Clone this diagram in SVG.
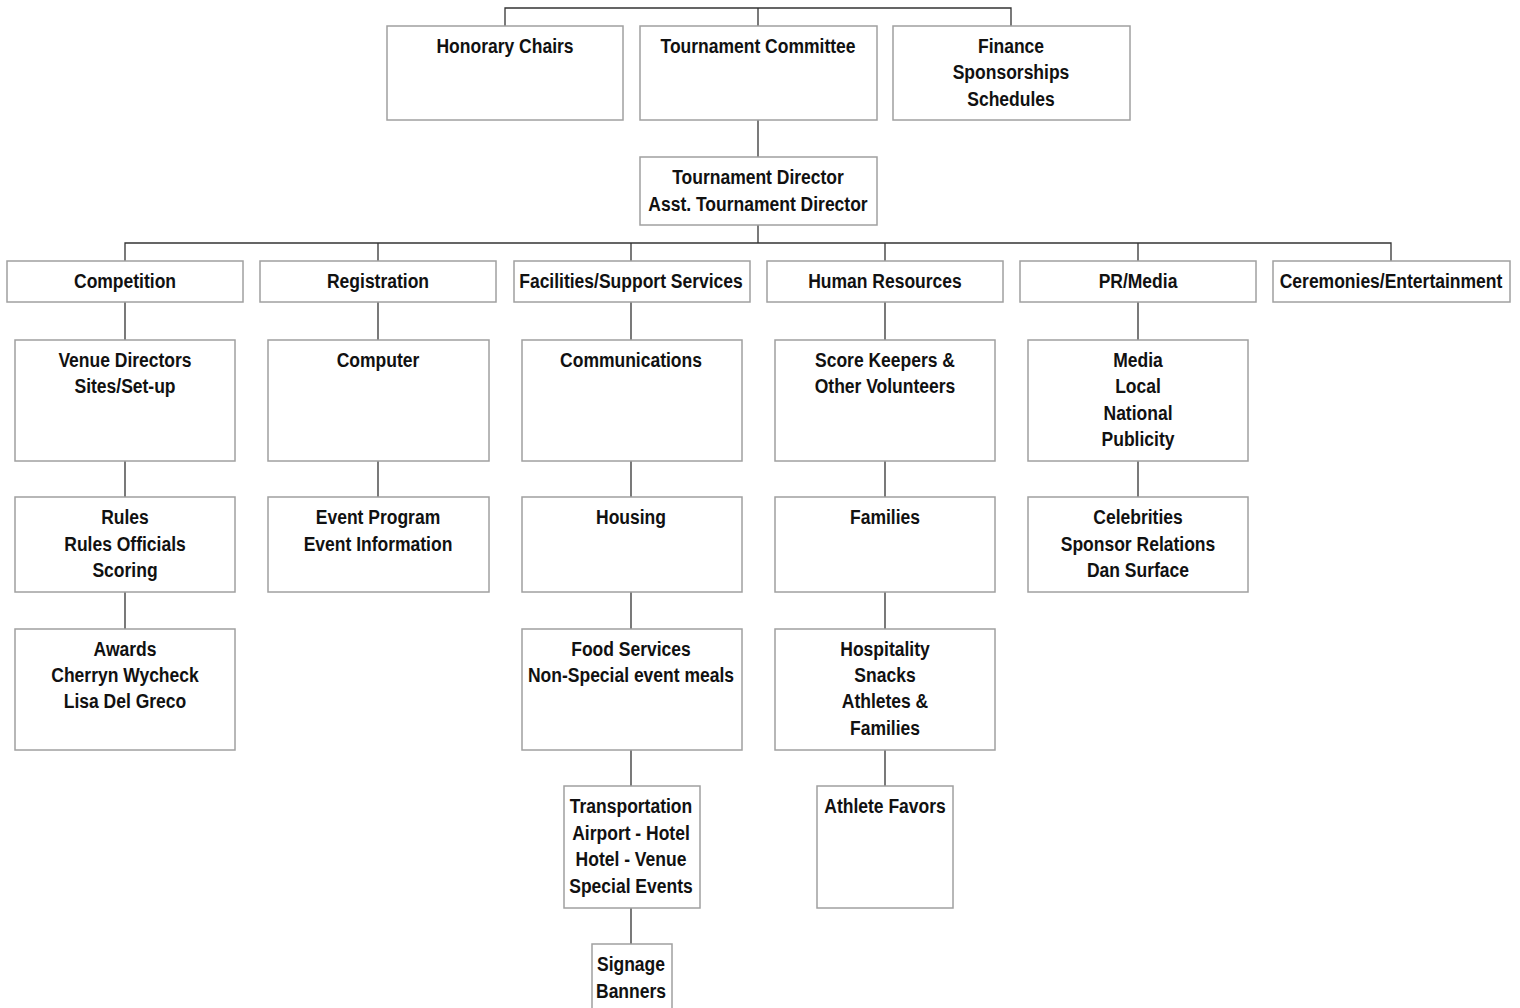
<svg xmlns="http://www.w3.org/2000/svg" width="1520" height="1008" viewBox="0 0 1520 1008">
  <style>
    .box { fill: #ffffff; stroke: #a0a0a0; stroke-width: 1.5; }
    .lbl { font-family: "Liberation Sans", Arial, sans-serif; font-weight: bold; font-size: 20px; fill: #111111; text-anchor: middle; }
    .wire { fill: none; stroke: #333333; stroke-width: 1.3; }
  </style>
  <rect width="1520" height="1008" fill="#ffffff"/>

  <!-- connectors -->
  <g id="connectors" class="wire">
    <path d="M505 26 V8 H1011 V26 M758 8 V26"/>
    <path d="M758 120 V157"/>
    <path d="M758 225 V243 M125 261 V243 H1391 V261 M378 243 V261 M631 243 V261 M885 243 V261 M1138 243 V261"/>
    <path d="M125 302 V340 M125 461 V497 M125 592 V629"/>
    <path d="M378 302 V340 M378 461 V497"/>
    <path d="M631 302 V340 M631 461 V497 M631 592 V629 M631 750 V786 M631 908 V944"/>
    <path d="M885 302 V340 M885 461 V497 M885 592 V629 M885 750 V786"/>
    <path d="M1138 302 V340 M1138 461 V497"/>
  </g>

  <!-- labels are condensed horizontally around each column centre -->
  <!-- top row -->
  <g id="honorary-chairs"><rect class="box" x="387" y="26" width="236" height="94"/>
    <g class="lbl" transform="translate(505 0) scale(0.875 1)"><text x="0" y="53">Honorary Chairs</text></g></g>
  <g id="tournament-committee"><rect class="box" x="640" y="26" width="237" height="94"/>
    <g class="lbl" transform="translate(758 0) scale(0.875 1)"><text x="0" y="53">Tournament Committee</text></g></g>
  <g id="finance"><rect class="box" x="893" y="26" width="237" height="94"/>
    <g class="lbl" transform="translate(1011 0) scale(0.875 1)">
      <text x="0" y="53">Finance</text>
      <text x="0" y="79">Sponsorships</text>
      <text x="0" y="106">Schedules</text></g></g>

  <g id="tournament-director"><rect class="box" x="640" y="157" width="237" height="68"/>
    <g class="lbl" transform="translate(758 0) scale(0.875 1)">
      <text x="0" y="184">Tournament Director</text>
      <text x="0" y="211">Asst. Tournament Director</text></g></g>

  <!-- departments -->
  <g id="competition"><rect class="box" x="7" y="261" width="236" height="41"/>
    <g class="lbl" transform="translate(125 0) scale(0.875 1)"><text x="0" y="288">Competition</text></g></g>
  <g id="registration"><rect class="box" x="260" y="261" width="236" height="41"/>
    <g class="lbl" transform="translate(378 0) scale(0.875 1)"><text x="0" y="288">Registration</text></g></g>
  <g id="facilities"><rect class="box" x="514" y="261" width="236" height="41"/>
    <g class="lbl" transform="translate(631 0) scale(0.875 1)"><text x="0" y="288">Facilities/Support Services</text></g></g>
  <g id="human-resources"><rect class="box" x="767" y="261" width="236" height="41"/>
    <g class="lbl" transform="translate(885 0) scale(0.875 1)"><text x="0" y="288">Human Resources</text></g></g>
  <g id="pr-media"><rect class="box" x="1020" y="261" width="236" height="41"/>
    <g class="lbl" transform="translate(1138 0) scale(0.875 1)"><text x="0" y="288">PR/Media</text></g></g>
  <g id="ceremonies"><rect class="box" x="1273" y="261" width="237" height="41"/>
    <g class="lbl" transform="translate(1391 0) scale(0.875 1)"><text x="0" y="288">Ceremonies/Entertainment</text></g></g>

  <!-- competition column -->
  <g id="venue-directors"><rect class="box" x="15" y="340" width="220" height="121"/>
    <g class="lbl" transform="translate(125 0) scale(0.875 1)">
      <text x="0" y="367">Venue Directors</text>
      <text x="0" y="393">Sites/Set-up</text></g></g>
  <g id="rules"><rect class="box" x="15" y="497" width="220" height="95"/>
    <g class="lbl" transform="translate(125 0) scale(0.875 1)">
      <text x="0" y="524">Rules</text>
      <text x="0" y="551">Rules Officials</text>
      <text x="0" y="577">Scoring</text></g></g>
  <g id="awards"><rect class="box" x="15" y="629" width="220" height="121"/>
    <g class="lbl" transform="translate(125 0) scale(0.875 1)">
      <text x="0" y="656">Awards</text>
      <text x="0" y="682">Cherryn Wycheck</text>
      <text x="0" y="708">Lisa Del Greco</text></g></g>

  <!-- registration column -->
  <g id="computer"><rect class="box" x="268" y="340" width="221" height="121"/>
    <g class="lbl" transform="translate(378 0) scale(0.875 1)"><text x="0" y="367">Computer</text></g></g>
  <g id="event-program"><rect class="box" x="268" y="497" width="221" height="95"/>
    <g class="lbl" transform="translate(378 0) scale(0.875 1)">
      <text x="0" y="524">Event Program</text>
      <text x="0" y="551">Event Information</text></g></g>

  <!-- facilities column -->
  <g id="communications"><rect class="box" x="522" y="340" width="220" height="121"/>
    <g class="lbl" transform="translate(631 0) scale(0.875 1)"><text x="0" y="367">Communications</text></g></g>
  <g id="housing"><rect class="box" x="522" y="497" width="220" height="95"/>
    <g class="lbl" transform="translate(631 0) scale(0.875 1)"><text x="0" y="524">Housing</text></g></g>
  <g id="food-services"><rect class="box" x="522" y="629" width="220" height="121"/>
    <g class="lbl" transform="translate(631 0) scale(0.875 1)">
      <text x="0" y="656">Food Services</text>
      <text x="0" y="682">Non-Special event meals</text></g></g>
  <g id="transportation"><rect class="box" x="564" y="786" width="136" height="122"/>
    <g class="lbl" transform="translate(631 0) scale(0.875 1)">
      <text x="0" y="813">Transportation</text>
      <text x="0" y="840">Airport - Hotel</text>
      <text x="0" y="866">Hotel - Venue</text>
      <text x="0" y="893">Special Events</text></g></g>
  <g id="signage"><rect class="box" x="592" y="944" width="80" height="80"/>
    <g class="lbl" transform="translate(631 0) scale(0.875 1)">
      <text x="0" y="971">Signage</text>
      <text x="0" y="998">Banners</text></g></g>

  <!-- human resources column -->
  <g id="score-keepers"><rect class="box" x="775" y="340" width="220" height="121"/>
    <g class="lbl" transform="translate(885 0) scale(0.875 1)">
      <text x="0" y="367">Score Keepers &amp;</text>
      <text x="0" y="393">Other Volunteers</text></g></g>
  <g id="families"><rect class="box" x="775" y="497" width="220" height="95"/>
    <g class="lbl" transform="translate(885 0) scale(0.875 1)"><text x="0" y="524">Families</text></g></g>
  <g id="hospitality"><rect class="box" x="775" y="629" width="220" height="121"/>
    <g class="lbl" transform="translate(885 0) scale(0.875 1)">
      <text x="0" y="656">Hospitality</text>
      <text x="0" y="682">Snacks</text>
      <text x="0" y="708">Athletes &amp;</text>
      <text x="0" y="735">Families</text></g></g>
  <g id="athlete-favors"><rect class="box" x="817" y="786" width="136" height="122"/>
    <g class="lbl" transform="translate(885 0) scale(0.875 1)"><text x="0" y="813">Athlete Favors</text></g></g>

  <!-- pr/media column -->
  <g id="media"><rect class="box" x="1028" y="340" width="220" height="121"/>
    <g class="lbl" transform="translate(1138 0) scale(0.875 1)">
      <text x="0" y="367">Media</text>
      <text x="0" y="393">Local</text>
      <text x="0" y="420">National</text>
      <text x="0" y="446">Publicity</text></g></g>
  <g id="celebrities"><rect class="box" x="1028" y="497" width="220" height="95"/>
    <g class="lbl" transform="translate(1138 0) scale(0.875 1)">
      <text x="0" y="524">Celebrities</text>
      <text x="0" y="551">Sponsor Relations</text>
      <text x="0" y="577">Dan Surface</text></g></g>
</svg>
